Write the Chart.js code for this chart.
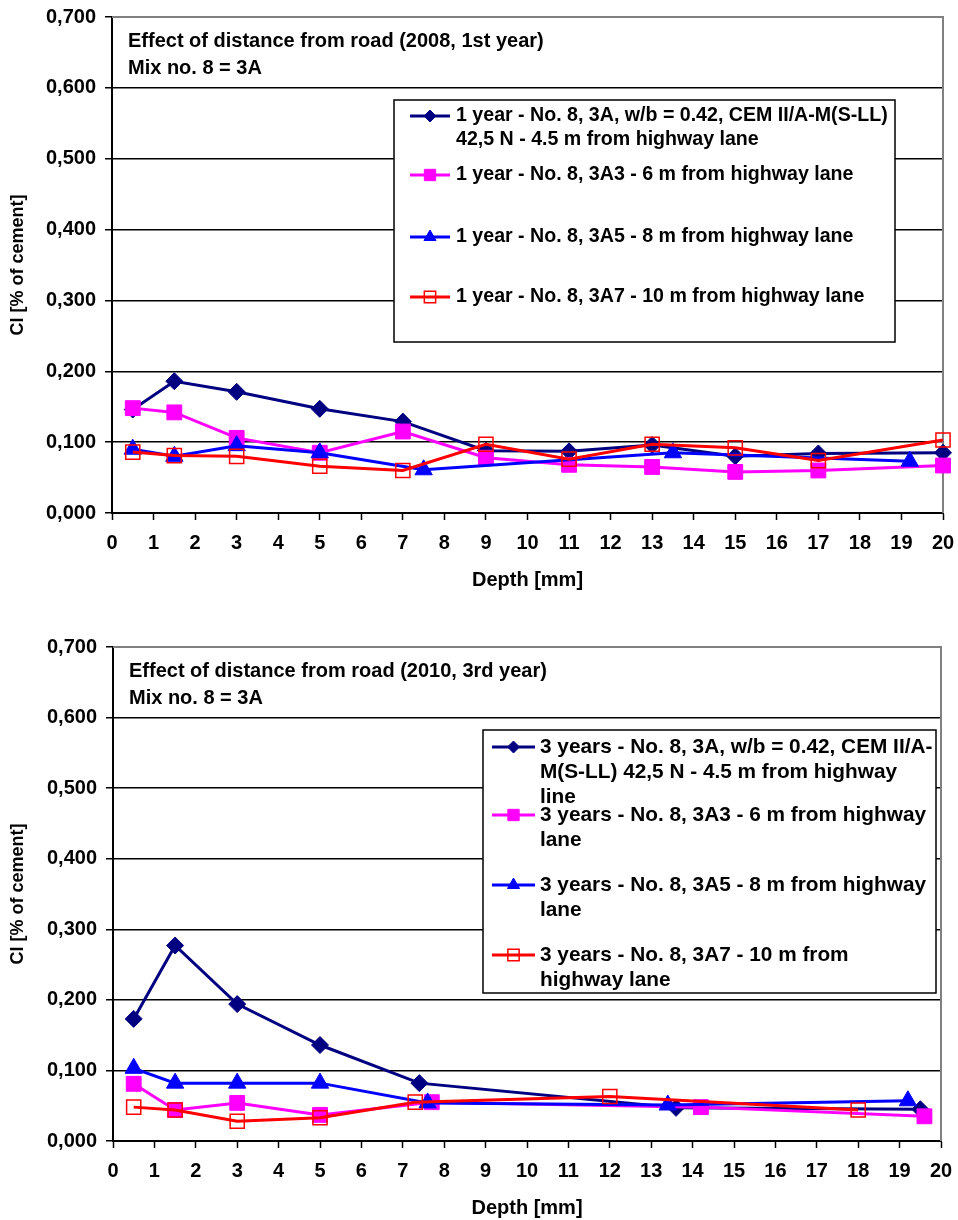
<!DOCTYPE html>
<html><head><meta charset="utf-8">
<script src="https://cdn.jsdelivr.net/npm/chart.js@4.4.0/dist/chart.umd.min.js"></script>
<style>
html,body{margin:0;padding:0;background:#fff;}
.wrap{position:absolute;left:0;width:958px;height:610px;}
#w1{top:0}
#w2{top:610px}
canvas{display:block}
</style></head><body>
<div class="wrap" id="w1"><canvas id="c1" width="958" height="610"></canvas></div>
<div class="wrap" id="w2"><canvas id="c2" width="958" height="610"></canvas></div>
<script>
// ---------- DATA ----------
const yTickLabels = ['0,000','0,100','0,200','0,300','0,400','0,500','0,600','0,700'];
const xTickLabels = ['0','1','2','3','4','5','6','7','8','9','10','11','12','13','14','15','16','17','18','19','20'];

// 2008, 1st year
const depth2008 = [0.5, 1.5, 3, 5, 7, 9, 11, 13, 15, 17, 20];
const cl2008_3A  = [0.146, 0.186, 0.171, 0.147, 0.129, 0.088, 0.087, 0.096, 0.080, 0.084, 0.085];
const cl2008_3A3 = [0.148, 0.142, 0.106, 0.085, 0.115, 0.078, 0.068, 0.065, 0.058, 0.060, 0.067];
const depth2008_3A5 = [0.5, 1.5, 3, 5, 7.5, 13.5, 19.2];
const cl2008_3A5 = [0.090, 0.080, 0.095, 0.085, 0.061, 0.085, 0.073];
const cl2008_3A7 = [0.086, 0.081, 0.080, 0.066, 0.060, 0.097, 0.076, 0.097, 0.092, 0.074, 0.103];

// 2010, 3rd year
const depth2010_3A  = [0.5, 1.5, 3, 5, 7.4, 13.6, 19.5];
const cl2010_3A     = [0.173, 0.277, 0.194, 0.136, 0.082, 0.047, 0.045];
const depth2010_3A3 = [0.5, 1.5, 3, 5, 7.7, 14.2, 19.6];
const cl2010_3A3    = [0.081, 0.044, 0.054, 0.037, 0.055, 0.048, 0.035];
const depth2010_3A5 = [0.5, 1.5, 3, 5, 7.6, 13.4, 19.2];
const cl2010_3A5    = [0.103, 0.082, 0.082, 0.082, 0.054, 0.051, 0.057];
const depth2010_3A7 = [0.5, 1.5, 3, 5, 7.3, 12, 18];
const cl2010_3A7    = [0.048, 0.044, 0.028, 0.033, 0.055, 0.063, 0.044];

const title2008 = ['Effect of distance from road (2008, 1st year)', 'Mix no. 8 = 3A'];
const title2010 = ['Effect of distance from road (2010, 3rd year)', 'Mix no. 8 = 3A'];
const legend2008 = [
  ['1 year - No. 8, 3A, w/b = 0.42, CEM II/A-M(S-LL)', '42,5 N - 4.5 m from highway lane'],
  ['1 year - No. 8, 3A3 - 6 m from highway lane'],
  ['1 year - No. 8, 3A5 - 8 m from highway lane'],
  ['1 year - No. 8, 3A7 - 10 m from highway lane']
];
const legend2010 = [
  ['3 years - No. 8, 3A, w/b = 0.42, CEM II/A-', 'M(S-LL) 42,5 N - 4.5 m from highway', 'line'],
  ['3 years - No. 8, 3A3 - 6 m from highway', 'lane'],
  ['3 years - No. 8, 3A5 - 8 m from highway', 'lane'],
  ['3 years - No. 8, 3A7 - 10 m from', 'highway lane']
];
const xTitle = 'Depth [mm]';
const yTitle = 'Cl [% of cement]';

// ---------- STYLE ----------
const FAM = '"Liberation Sans", Arial, sans-serif';
const FONT = 'bold 20px ' + FAM;
const styles = [
  {color:'#000080', style:'rectRot', r:8.5, fill:'#000080', bw:1, order:3, lr:6},
  {color:'#FF00FF', style:'rect', r:10.5, fill:'#FF00FF', bw:1, order:2, lr:8},
  {color:'#0000FF', style:'triangle', r:10, fill:'#0000FF', bw:1, order:1, lr:7},
  {color:'#FF0000', style:'rect', r:10, fill:'rgba(0,0,0,0)', bw:1.5, order:0, lr:8}
];

function pts(xs, ys){ return xs.map((x,i)=>({x:x, y:ys[i]})); }
function mkDs(label, data, s){
  return {label:label, data:data, borderColor:s.color, borderWidth:3, backgroundColor:s.color,
    pointStyle:s.style, pointRadius:s.r, pointBackgroundColor:s.fill, pointBorderColor:s.color,
    pointBorderWidth:s.bw, order:s.order, tension:0, clip:false, fill:false};
}

const decor = {
  id:'decor',
  beforeDatasetsDraw(chart, args, o){
    const ctx = chart.ctx, a = chart.chartArea;
    ctx.save();
    ctx.strokeStyle = '#808080'; ctx.lineWidth = 2;
    ctx.beginPath(); ctx.moveTo(a.left, a.top); ctx.lineTo(a.right, a.top); ctx.lineTo(a.right, a.bottom); ctx.stroke();
    ctx.restore();
  },
  afterDraw(chart, args, o){
    const ctx = chart.ctx, a = chart.chartArea;
    ctx.save();
    ctx.font = FONT; ctx.fillStyle = '#000'; ctx.textBaseline = 'middle'; ctx.textAlign = 'left';
    o.title.forEach((t,i)=>ctx.fillText(t, a.left + o.titleDx, a.top + o.titleDy[i]));
    const L = o.box;
    ctx.fillStyle = '#fff'; ctx.fillRect(L.x, L.y, L.w, L.h);
    ctx.strokeStyle = '#000'; ctx.lineWidth = 1.5; ctx.strokeRect(L.x, L.y, L.w, L.h);
    chart.data.datasets.forEach((ds,i)=>{
      const y0 = L.rowY[i];
      ctx.strokeStyle = ds.borderColor; ctx.lineWidth = 3;
      ctx.beginPath(); ctx.moveTo(L.symX0, y0); ctx.lineTo(L.symX1, y0); ctx.stroke();
      ctx.fillStyle = ds.pointBackgroundColor; ctx.strokeStyle = ds.pointBorderColor; ctx.lineWidth = ds.pointBorderWidth;
      Chart.helpers.drawPoint(ctx, {pointStyle: ds.pointStyle, radius: styles[i].lr, rotation:0, borderWidth: ds.pointBorderWidth}, (L.symX0 + L.symX1)/2, y0);
      ctx.fillStyle = '#000'; ctx.font = 'bold ' + L.fontSize + 'px ' + FAM;
      o.lines[i].forEach((t,j)=>ctx.fillText(t, L.textX, y0 + j*L.lineH));
    });
    ctx.restore();
  }
};

function makeChart(id, datasets, cfg){
  return new Chart(document.getElementById(id), {
    type:'line',
    data:{datasets:datasets},
    plugins:[decor],
    options:{
      responsive:false, animation:false, devicePixelRatio:1,
      layout:{padding:{top:cfg.top, right:cfg.right, left:0, bottom:0}},
      plugins:{legend:{display:false}, tooltip:{enabled:false},
        decor:{title:cfg.title, titleDx:16, titleDy:[24,51], lines:cfg.lines, box:cfg.box}},
      scales:{
        x:{type:'linear', min:0, max:20,
          afterFit:s=>{ s.height = cfg.xh; s.paddingLeft = 0; s.paddingRight = 0; },
          ticks:{stepSize:1, autoSkip:false, maxRotation:0, padding:11, color:'#000',
            font:{family:FAM, size:20, weight:'bold'},
            callback:(v)=>xTickLabels[Math.round(v)]},
          grid:{drawOnChartArea:false, drawTicks:true, tickLength:7, tickColor:'#000', tickWidth:1.5},
          border:{color:'#000', width:2},
          title:{display:true, text:xTitle, color:'#000', font:{family:FAM, size:20, weight:'bold'},
            padding:{top:0, bottom:cfg.xtPad}}
        },
        y:{type:'linear', min:0, max:0.7,
          afterFit:s=>{ s.width = cfg.yw; s.paddingTop = 0; s.paddingBottom = 0; },
          ticks:{stepSize:0.1, padding:9, color:'#000', font:{family:FAM, size:20, weight:'bold'},
            callback:(v)=>yTickLabels[Math.round(v*10)]},
          grid:{color:'#000', lineWidth:1.5, drawTicks:true, tickLength:7, tickColor:'#000', tickWidth:1.5},
          border:{color:'#000', width:2},
          title:{display:true, text:yTitle, color:'#000', font:{family:FAM, size:18, weight:'bold'},
            padding:{top:7, bottom:0}}
        }
      }
    }
  });
}

makeChart('c1', [
  mkDs(legend2008[0].join(' '), pts(depth2008, cl2008_3A), styles[0]),
  mkDs(legend2008[1].join(' '), pts(depth2008, cl2008_3A3), styles[1]),
  mkDs(legend2008[2].join(' '), pts(depth2008_3A5, cl2008_3A5), styles[2]),
  mkDs(legend2008[3].join(' '), pts(depth2008, cl2008_3A7), styles[3])
], {top:17, right:15, yw:112, xh:97, xtPad:18, title:title2008, lines:legend2008,
    box:{x:394, y:100, w:501, h:242, rowY:[116,175,237,297], symX0:410, symX1:450, textX:456, lineH:24, fontSize:19.6}});

makeChart('c2', [
  mkDs(legend2010[0].join(' '), pts(depth2010_3A, cl2010_3A), styles[0]),
  mkDs(legend2010[1].join(' '), pts(depth2010_3A3, cl2010_3A3), styles[1]),
  mkDs(legend2010[2].join(' '), pts(depth2010_3A5, cl2010_3A5), styles[2]),
  mkDs(legend2010[3].join(' '), pts(depth2010_3A7, cl2010_3A7), styles[3])
], {top:37, right:17, yw:113, xh:79, xtPad:0, title:title2010, lines:legend2010,
    box:{x:483, y:120, w:453, h:263, rowY:[137,205,275,345], symX0:492, symX1:535, textX:540, lineH:25, fontSize:20.8}});
</script>
</body></html>
